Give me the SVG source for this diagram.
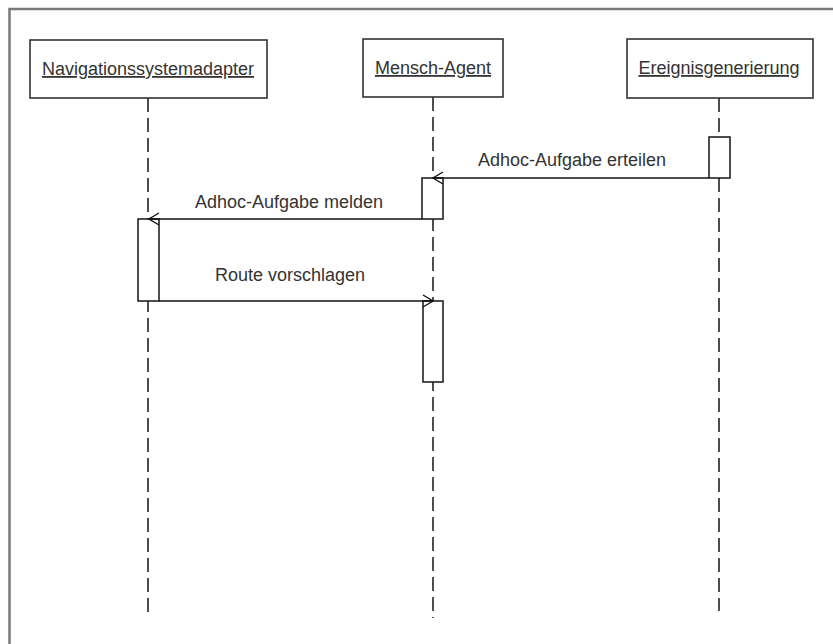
<svg xmlns="http://www.w3.org/2000/svg" width="833" height="644" viewBox="0 0 833 644">
  <style>
    .frame { fill: none; stroke: #7a7a7a; stroke-width: 2.5; }
    .head { fill: #ffffff; stroke: #333333; stroke-width: 1.6; }
    .name { font-family: "Liberation Sans", Arial, sans-serif; font-size: 18px; fill: #333333; text-anchor: middle; text-decoration: underline; }
    .life { stroke: #222222; stroke-width: 1.6; stroke-dasharray: 14 6; }
    .act { fill: #ffffff; stroke: #222222; stroke-width: 1.6; }
    .msg { fill: none; stroke: #111111; stroke-width: 1.5; marker-end: url(#open); }
    .label { font-family: "Liberation Sans", Arial, sans-serif; font-size: 18px; fill: #333333; text-anchor: middle; }
  </style>
  <defs>
    <marker id="open" viewBox="0 0 12 14" refX="11" refY="7" markerWidth="12" markerHeight="14" markerUnits="userSpaceOnUse" orient="auto">
      <polyline points="1,1 11,7 1,13" fill="none" stroke="#111111" stroke-width="1.3"/>
    </marker>
  </defs>

  <rect width="833" height="644" fill="#ffffff"/>
  <!-- outer frame, open to the right and bottom -->
  <path class="frame" d="M9.5 644 V9 H833"/>

  <g id="lifeline-navigationssystemadapter">
    <line class="life" x1="148" y1="98" x2="148" y2="618"/>
    <rect class="head" x="30" y="40" width="237" height="58"/>
    <text class="name" x="148" y="75">Navigationssystemadapter</text>
    <rect class="act" x="138" y="219" width="21" height="82"/>
  </g>

  <g id="lifeline-mensch-agent">
    <line class="life" x1="433" y1="97" x2="433" y2="618"/>
    <rect class="head" x="363" y="39" width="140" height="58"/>
    <text class="name" x="433" y="74">Mensch-Agent</text>
    <rect class="act" x="422" y="178" width="21" height="41"/>
    <rect class="act" x="423" y="301" width="20" height="81"/>
  </g>

  <g id="lifeline-ereignisgenerierung">
    <line class="life" x1="719" y1="98" x2="719" y2="611"/>
    <rect class="head" x="627" y="39" width="186" height="59"/>
    <text class="name" x="719" y="74">Ereignisgenerierung</text>
    <rect class="act" x="709" y="137" width="21" height="41"/>
  </g>

  <g id="messages">
    <line class="msg" x1="709" y1="178" x2="433" y2="178"/>
    <text class="label" x="572" y="166">Adhoc-Aufgabe erteilen</text>
    <line class="msg" x1="422" y1="219" x2="149" y2="219"/>
    <text class="label" x="289" y="208">Adhoc-Aufgabe melden</text>
    <line class="msg" x1="159" y1="301" x2="433" y2="301"/>
    <text class="label" x="290" y="281">Route vorschlagen</text>
  </g>
</svg>
